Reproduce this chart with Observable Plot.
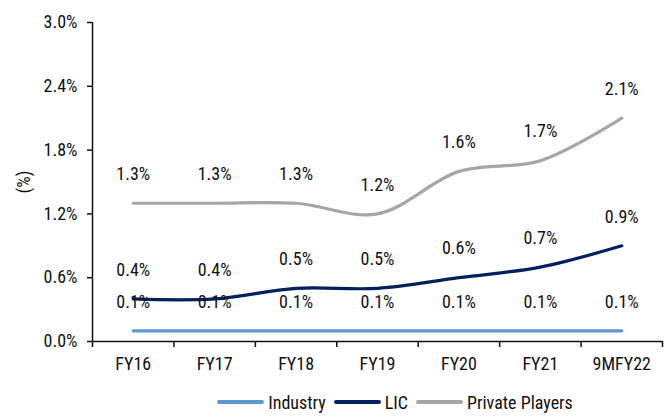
<!DOCTYPE html>
<html>
<head>
<meta charset="utf-8">
<script src="https://cdn.jsdelivr.net/npm/d3@7"></script>
<script src="https://cdn.jsdelivr.net/npm/@observablehq/plot@0.6"></script>
<style>
  html, body { margin: 0; padding: 0; background: #fff; }
  body { width: 670px; height: 417px; overflow: hidden; font-family: "Roboto Condensed", Roboto, sans-serif; color: #111; }
  #legend { display: flex; justify-content: center; align-items: center; height: 24px; margin-left: 120px; font-size: 18px; }
  .item { display: flex; align-items: center; margin: 0 4px; }
  .sw { width: 47px; height: 4px; border-radius: 2px; margin-right: 4px; }
</style>
</head>
<body>
<div id="chart"></div>
<div id="legend"></div>
<script>
const categories = ["FY16", "FY17", "FY18", "FY19", "FY20", "FY21", "9MFY22"];
const seriesNames = ["Industry", "LIC", "Private Players"];
const industry = [0.1, 0.1, 0.1, 0.1, 0.1, 0.1, 0.1];
const lic = [0.4, 0.4, 0.5, 0.5, 0.6, 0.7, 0.9];
const privatePlayers = [1.3, 1.3, 1.3, 1.2, 1.6, 1.7, 2.1];
const seriesColors = ["#5B9BD5", "#002060", "#A6A6A6"];
const yTicks = [0, 0.6, 1.2, 1.8, 2.4, 3.0];

const seriesValues = [industry, lic, privatePlayers];
const rows = [];
seriesNames.forEach((s, k) => seriesValues[k].forEach((v, i) => rows.push({series: s, i, cat: categories[i], value: v})));
const fmt = v => v.toFixed(1) + "%";
const xc = d => d.i + 0.5;

const chart = Plot.plot({
  width: 670,
  height: 390,
  marginLeft: 92,
  marginRight: 8,
  marginTop: 22,
  marginBottom: 49,
  style: {fontFamily: '"Roboto Condensed", Roboto, sans-serif', fontSize: "18px", color: "#111", background: "#fff"},
  x: {type: "linear", domain: [0, categories.length]},
  y: {domain: [0, 3]},
  color: {domain: seriesNames, range: seriesColors},
  marks: [
    Plot.axisY({ticks: yTicks, tickFormat: fmt, tickSize: 5, tickPadding: 10, strokeWidth: 1.5,
      label: "(%)", labelAnchor: "center", labelArrow: "none", labelOffset: 75}),
    Plot.axisX({ticks: d3.range(categories.length + 1), tickFormat: () => "", tickSize: 6, strokeWidth: 1.5, label: null}),
    Plot.axisX({ticks: categories.map((_, i) => i + 0.5), tickFormat: v => categories[Math.round(v - 0.5)], tickSize: 0, tickPadding: 16, label: null}),
    Plot.ruleX([0], {y1: 0, y2: 3, strokeWidth: 1.5}),
    Plot.ruleY([0], {strokeWidth: 1.5}),
    Plot.line(rows, {x: xc, y: "value", z: "series", stroke: "series", curve: "catmull-rom", strokeWidth: 3.2}),
    Plot.text(rows, {x: xc, y: "value", text: d => fmt(d.value), dy: -29, fill: "#111"})
  ]
});
document.getElementById("chart").appendChild(chart);

const legend = document.getElementById("legend");
seriesNames.forEach((s, k) => {
  const it = document.createElement("div");
  it.className = "item";
  const sw = document.createElement("div");
  sw.className = "sw";
  sw.style.background = seriesColors[k];
  const t = document.createElement("span");
  t.textContent = s;
  it.appendChild(sw);
  it.appendChild(t);
  legend.appendChild(it);
});
</script>
</body>
</html>
